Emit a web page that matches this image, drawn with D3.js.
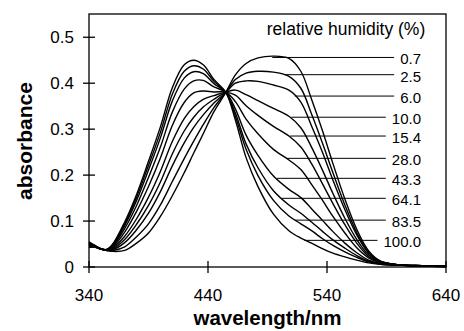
<!DOCTYPE html>
<html>
<head>
<meta charset="utf-8">
<script src="https://cdn.jsdelivr.net/npm/d3@7"></script>
<style>
  body { margin: 0; background: #fff; }
  svg { display: block; font-family: Arial, "Liberation Sans", sans-serif; }
</style>
</head>
<body>
<div id="chart"></div>
<script>
// absorbance spectra at different relative humidity
const wavelength = [340,345,350,355,360,370,380,390,400,410,420,428,436,445,455,463,472,482,495,508,518,527,536,545,555,565,575,585,600,620,640];

const humidity = ["0.7", "2.5", "6.0", "10.0", "15.4", "28.0", "43.3", "64.1", "83.5", "100.0"];

const abs_0_7 = [0.042,0.044,0.039,0.036,0.034,0.036,0.052,0.074,0.110,0.155,0.205,0.248,0.290,0.338,0.380,0.418,0.443,0.455,0.459,0.454,0.426,0.365,0.298,0.225,0.148,0.082,0.035,0.013,0.005,0.003,0.002];
const abs_2_5 = [0.046,0.044,0.039,0.036,0.036,0.044,0.066,0.094,0.135,0.186,0.236,0.274,0.310,0.347,0.380,0.408,0.422,0.426,0.424,0.415,0.389,0.333,0.271,0.205,0.135,0.075,0.032,0.012,0.005,0.003,0.002];
const abs_6_0 = [0.050,0.045,0.039,0.037,0.038,0.053,0.081,0.117,0.164,0.220,0.270,0.304,0.331,0.357,0.380,0.400,0.405,0.404,0.396,0.385,0.359,0.307,0.251,0.189,0.125,0.070,0.030,0.012,0.005,0.003,0.002];
const abs_10_0 = [0.053,0.046,0.040,0.037,0.040,0.060,0.093,0.134,0.185,0.246,0.296,0.326,0.348,0.365,0.380,0.385,0.375,0.362,0.345,0.328,0.303,0.261,0.212,0.160,0.106,0.060,0.026,0.011,0.005,0.003,0.002];
const abs_15_4 = [0.048,0.044,0.039,0.037,0.042,0.067,0.105,0.152,0.208,0.273,0.323,0.349,0.365,0.373,0.380,0.374,0.351,0.330,0.306,0.285,0.261,0.225,0.182,0.138,0.092,0.052,0.023,0.010,0.005,0.003,0.002];
const abs_28_0 = [0.055,0.047,0.040,0.037,0.044,0.076,0.121,0.175,0.237,0.308,0.358,0.379,0.383,0.381,0.380,0.360,0.322,0.290,0.256,0.233,0.212,0.180,0.146,0.110,0.074,0.042,0.020,0.009,0.004,0.002,0.001];
const abs_43_3 = [0.051,0.045,0.039,0.038,0.046,0.084,0.134,0.195,0.261,0.337,0.387,0.405,0.406,0.392,0.380,0.344,0.287,0.243,0.198,0.169,0.151,0.127,0.102,0.077,0.052,0.031,0.015,0.008,0.004,0.002,0.001];
const abs_64_1 = [0.044,0.043,0.039,0.038,0.048,0.090,0.145,0.211,0.281,0.361,0.411,0.425,0.421,0.399,0.380,0.335,0.268,0.216,0.166,0.135,0.117,0.098,0.078,0.059,0.041,0.025,0.013,0.007,0.004,0.002,0.001];
const abs_83_5 = [0.053,0.046,0.040,0.038,0.049,0.094,0.152,0.221,0.293,0.376,0.426,0.438,0.431,0.404,0.380,0.328,0.256,0.199,0.145,0.111,0.094,0.079,0.062,0.047,0.033,0.021,0.011,0.006,0.004,0.002,0.001];
const abs_100_0 = [0.049,0.044,0.039,0.038,0.050,0.098,0.158,0.230,0.305,0.390,0.440,0.450,0.440,0.408,0.380,0.320,0.238,0.175,0.115,0.079,0.063,0.052,0.040,0.030,0.022,0.015,0.009,0.006,0.004,0.002,0.001];

// where each label's leader line meets its curve (wavelength, absorbance)
const leaderWl = [494, 504, 513, 510, 509, 506, 498, 502, 513, 521];
const leaderAbs = [0.456, 0.4185, 0.372, 0.326, 0.285, 0.2365, 0.193, 0.1495, 0.102, 0.058];

const xTicks = [340, 440, 540, 640];
const yTicks = [0, 0.1, 0.2, 0.3, 0.4, 0.5];

const allSeries = [abs_0_7, abs_2_5, abs_6_0, abs_10_0, abs_15_4, abs_28_0, abs_43_3, abs_64_1, abs_83_5, abs_100_0];

const W = 464, H = 331;
const margin = { top: 14, right: 18, bottom: 64, left: 89 };
const width = W - margin.left - margin.right,
    height = H - margin.top - margin.bottom;

const svg = d3.select("#chart").append("svg")
    .attr("width", W)
    .attr("height", H);

const g = svg.append("g")
    .attr("transform", "translate(" + margin.left + "," + margin.top + ")");

const x = d3.scaleLinear().domain([340, 640]).range([0, width]);
const y = d3.scaleLinear().domain([0, 0.5506]).range([height, 0]);

// curves
const line = d3.line()
    .x((d, i) => x(wavelength[i]))
    .y(d => y(d))
    .curve(d3.curveCatmullRom.alpha(0.5));

g.selectAll(".spectrum")
    .data(allSeries)
    .enter()
    .append("path")
    .attr("class", "spectrum")
    .attr("d", line)
    .attr("fill", "none")
    .attr("stroke", "#000")
    .attr("stroke-width", 1.4);

// frame
g.append("rect")
    .attr("x", 0).attr("y", 0)
    .attr("width", width).attr("height", height)
    .attr("fill", "none")
    .attr("stroke", "#000")
    .attr("stroke-width", 1.3);

// x axis ticks (cross the axis)
const xAxis = g.append("g").attr("transform", "translate(0," + height + ")");
xAxis.selectAll("line")
    .data(xTicks)
    .enter().append("line")
    .attr("x1", d => x(d)).attr("x2", d => x(d))
    .attr("y1", -6).attr("y2", 6)
    .attr("stroke", "#000").attr("stroke-width", 1.3);
xAxis.selectAll("text")
    .data(xTicks)
    .enter().append("text")
    .attr("x", d => x(d))
    .attr("y", 34)
    .attr("text-anchor", "middle")
    .attr("font-size", 17)
    .text(d => d);

// y axis ticks
const yAxis = g.append("g");
yAxis.selectAll("line")
    .data(yTicks)
    .enter().append("line")
    .attr("x1", -6).attr("x2", 6)
    .attr("y1", d => y(d)).attr("y2", d => y(d))
    .attr("stroke", "#000").attr("stroke-width", 1.3);
yAxis.selectAll("text")
    .data(yTicks)
    .enter().append("text")
    .attr("x", -15)
    .attr("y", d => y(d))
    .attr("dy", "0.35em")
    .attr("text-anchor", "end")
    .attr("font-size", 17)
    .text(d => d === 0 ? "0" : d3.format(".1f")(d));

// axis titles
svg.append("text")
    .attr("x", margin.left + width / 2)
    .attr("y", 325)
    .attr("text-anchor", "middle")
    .attr("font-size", 20.5)
    .attr("font-weight", "bold")
    .text("wavelength/nm");

svg.append("text")
    .attr("transform", "translate(32,141) rotate(-90)")
    .attr("text-anchor", "middle")
    .attr("font-size", 21)
    .attr("font-weight", "bold")
    .text("absorbance");

// legend
svg.append("text")
    .attr("x", 346)
    .attr("y", 35)
    .attr("text-anchor", "middle")
    .attr("font-size", 17.5)
    .text("relative humidity (%)");

const labelRight = 421;
const lab = svg.append("g");
humidity.forEach(function (h, i) {
    const yy = margin.top + y(leaderAbs[i]);
    const t = lab.append("text")
        .attr("x", labelRight)
        .attr("y", yy + 7)
        .attr("text-anchor", "end")
        .attr("font-size", 15)
        .text(h);
    const len = t.node().getComputedTextLength();
    lab.append("line")
        .attr("x1", margin.left + x(leaderWl[i]))
        .attr("x2", labelRight - len - 6)
        .attr("y1", yy).attr("y2", yy)
        .attr("stroke", "#000")
        .attr("stroke-width", 1);
});
</script>
</body>
</html>
